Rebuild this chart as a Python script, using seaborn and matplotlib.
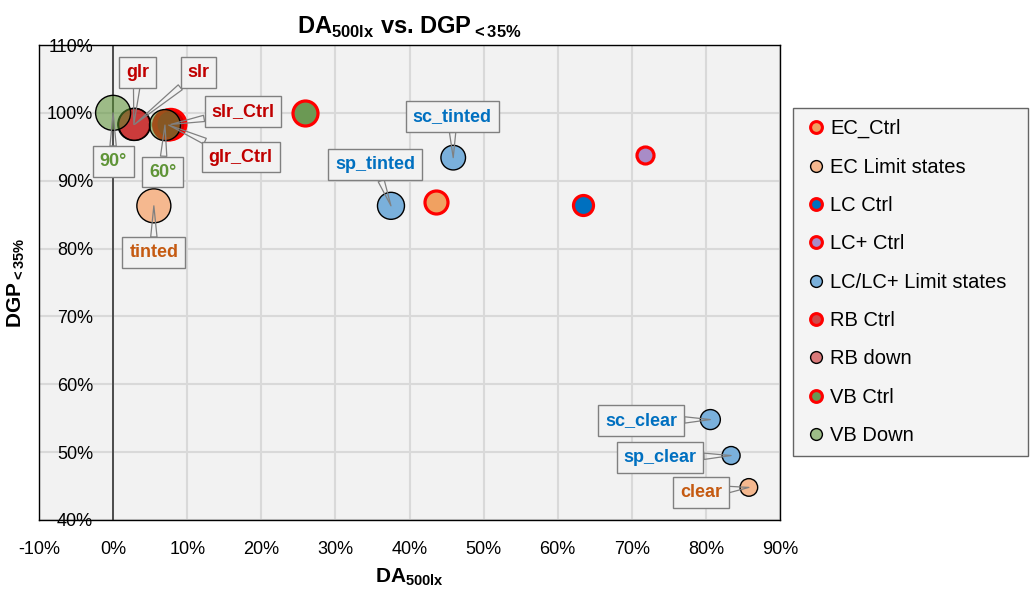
import matplotlib
matplotlib.use("Agg")
import matplotlib.pyplot as plt
from matplotlib import font_manager
from matplotlib.lines import Line2D
from matplotlib.ticker import FuncFormatter, MultipleLocator
import seaborn as sns
import pandas as pd

# ---- data -------------------------------------------------------------
series = ["EC_Ctrl", "EC Limit states", "LC Ctrl", "LC+ Ctrl",
          "LC/LC+ Limit states", "RB Ctrl", "RB down", "VB Ctrl", "VB Down"]

point_series = ["EC_Ctrl", "EC Limit states", "EC Limit states",
                "LC Ctrl", "LC+ Ctrl",
                "LC/LC+ Limit states", "LC/LC+ Limit states",
                "LC/LC+ Limit states", "LC/LC+ Limit states",
                "RB Ctrl", "RB Ctrl", "RB down", "RB down",
                "VB Ctrl", "VB Down", "VB Down"]
point_labels = ["", "tinted", "clear",
                "", "",
                "sc_tinted", "sp_tinted", "sc_clear", "sp_clear",
                "glr_Ctrl", "slr_Ctrl", "glr", "slr",
                "", "90°", "60°"]
da_500lx = [43.6, 5.5, 85.8,
            63.4, 71.8,
            45.9, 37.5, 80.6, 83.4,
            7.5, 7.8, 2.8, 2.9,
            25.9, 0.0, 7.0]
dgp_35 = [86.9, 86.3, 44.8,
          86.4, 93.8,
          93.4, 86.3, 54.8, 49.5,
          98.2, 98.3, 98.3, 98.3,
          100.0, 100.0, 98.2]
bubble = [11.5, 17.0, 8.8,
          10.0, 8.5,
          12.3, 13.5, 10.0, 9.0,
          15.0, 15.0, 16.0, 16.0,
          12.5, 17.5, 15.5]

x_ticks = list(range(-10, 91, 10))
y_ticks = list(range(40, 111, 10))

# ---- styles -----------------------------------------------------------
style = {
    "EC_Ctrl":             dict(face=(0.94, 0.63, 0.38, 1.0), edge="#FF0000", lw=2.3),
    "EC Limit states":     dict(face=(0.96, 0.72, 0.56, 1.0), edge="#000000", lw=1.0),
    "LC Ctrl":             dict(face=(0.00, 0.44, 0.75, 1.0), edge="#FF0000", lw=2.3),
    "LC+ Ctrl":            dict(face=(0.66, 0.55, 0.78, 1.0), edge="#FF0000", lw=2.3),
    "LC/LC+ Limit states": dict(face=(0.48, 0.69, 0.86, 1.0), edge="#000000", lw=1.0),
    "RB Ctrl":             dict(face=(0.75, 0.00, 0.00, 0.70), edge="#FF0000", lw=2.3),
    "RB down":             dict(face=(0.75, 0.00, 0.00, 0.50), edge="#000000", lw=1.0),
    "VB Ctrl":             dict(face=(0.42, 0.60, 0.33, 1.0), edge="#FF0000", lw=2.3),
    "VB Down":             dict(face=(0.34, 0.56, 0.19, 0.55), edge="#000000", lw=1.0),
}
label_color = {
    "EC Limit states": "#C55A11",
    "LC/LC+ Limit states": "#0070C0",
    "RB Ctrl": "#C00000",
    "RB down": "#C00000",
    "VB Down": "#5F9437",
}
# callout offsets in pixels (label centre relative to its bubble)
label_offset = {
    "tinted": (0, -47), "clear": (-48, -5),
    "sc_tinted": (-1, 41), "sp_tinted": (-16, 41),
    "sc_clear": (-69, -1), "sp_clear": (-71, -2),
    "glr_Ctrl": (72, -32), "slr_Ctrl": (72, 13),
    "glr": (4, 52), "slr": (64, 52),
    "90°": (0, -49), "60°": (-2, -47),
}

sns.set_theme(style="white")
names = {f.name for f in font_manager.fontManager.ttflist}
narrow = "Liberation Sans Narrow" if "Liberation Sans Narrow" in names else "Liberation Sans"
plt.rcParams["font.family"] = ["Liberation Sans", "DejaVu Sans"]
plt.rcParams["mathtext.fontset"] = "custom"
plt.rcParams["mathtext.rm"] = narrow
plt.rcParams["mathtext.bf"] = narrow + ":bold"
plt.rcParams["text.color"] = "#000000"
plt.rcParams["axes.labelcolor"] = "#000000"
plt.rcParams["xtick.color"] = "#000000"
plt.rcParams["ytick.color"] = "#000000"

df = pd.DataFrame({"series": point_series, "label": point_labels,
                   "DA": da_500lx, "DGP": dgp_35, "bubble": bubble})

fig = plt.figure(figsize=(10.3, 5.95), dpi=100)
ax = fig.add_axes([39 / 1030, 1 - 520 / 595, 741 / 1030, 475 / 595])
ax.set_facecolor("#F2F2F2")

ax.set_xlim(-10, 90)
ax.set_ylim(40, 110)
ax.xaxis.set_major_locator(MultipleLocator(10))
ax.yaxis.set_major_locator(MultipleLocator(10))
ax.grid(True, color="#D9D9D9", lw=1.5, zorder=0)
ax.set_axisbelow(True)
ax.axvline(0, color="#262626", lw=1.1, zorder=1)

for sp in ax.spines.values():
    sp.set_color("#000000")
    sp.set_linewidth(1.0)

px = 0.72  # points per pixel at 100 dpi
for name in series:
    sub = df[df["series"] == name]
    st = style[name]
    sns.scatterplot(data=sub, x="DA", y="DGP", ax=ax, legend=False,
                    color=st["face"][:3], edgecolor=st["edge"], linewidth=st["lw"],
                    zorder=3)
    coll = ax.collections[-1]
    coll.set_facecolor(st["face"])
    coll.set_edgecolor(st["edge"])
    coll.set_linewidth(st["lw"])
    coll.set_sizes([(2 * r * px) ** 2 for r in sub["bubble"]])

# callout labels
for _, row in df.iterrows():
    if not row["label"]:
        continue
    dx, dy = label_offset[row["label"]]
    ax.annotate(row["label"], xy=(row["DA"], row["DGP"]),
                xytext=(dx, dy), textcoords="offset pixels",
                ha="center", va="center", fontsize=13, fontweight="bold",
                color=label_color[row["series"]], zorder=6,
                bbox=dict(boxstyle="square,pad=0.38", fc="#F2F2F2",
                          ec="#808080", lw=1.0),
                arrowprops=dict(arrowstyle="wedge,tail_width=0.35,shrink_factor=0.5",
                                fc="none", ec="#808080", lw=0.9,
                                shrinkA=0, shrinkB=0))

ax.set_xticks(x_ticks)
ax.set_yticks(y_ticks)
ax.xaxis.set_major_formatter(FuncFormatter(lambda v, p: f"{v:.0f}%"))
ax.yaxis.set_major_formatter(FuncFormatter(lambda v, p: f"{v:.0f}%"))
ax.tick_params(axis="x", length=0, pad=15, labelsize=13, labelcolor="#000000")
ax.tick_params(axis="y", length=0, pad=-39, labelsize=13, labelcolor="#000000")
for t in ax.get_xticklabels() + ax.get_yticklabels():
    t.set_fontfamily(narrow)

ax.set_xlabel(r"DA$_{\mathbf{500lx}}$", fontsize=15, fontweight="bold",
              family=narrow, labelpad=6, color="#000000")
ax.set_ylabel(r"DGP$_{\mathbf{{<}35\%}}$", fontsize=15, fontweight="bold",
              family=narrow, color="#000000")
ax.yaxis.set_label_coords(-12 / 741, 0.5)
ax.set_title(r"DA$_{\mathbf{500lx}}$ vs. DGP$_{\mathbf{{<}35\%}}$", fontsize=17,
             fontweight="bold", family=narrow, pad=8, color="#000000")

handles = []
for name in series:
    st = style[name]
    handles.append(Line2D([], [], ls="none", marker="o", markersize=8.5,
                          markerfacecolor=st["face"], markeredgecolor=st["edge"],
                          markeredgewidth=2.2 if st["lw"] > 1.5 else 1.0))
leg = fig.legend(handles, series, loc="upper left",
                 bbox_to_anchor=(793 / 1030, 1 - 108 / 595, 235 / 1030, 0.0),
                 mode="expand", fontsize=14.5, frameon=True, fancybox=False,
                 labelspacing=0.96, handletextpad=0.1, handlelength=1.2,
                 borderpad=0.55, borderaxespad=0)
for txt in leg.get_texts():
    txt.set_color("#000000")
leg.get_frame().set_facecolor("#F2F2F2")
leg.get_frame().set_edgecolor("#404040")
leg.get_frame().set_linewidth(1.0)

fig.savefig("out.png", dpi=100)
